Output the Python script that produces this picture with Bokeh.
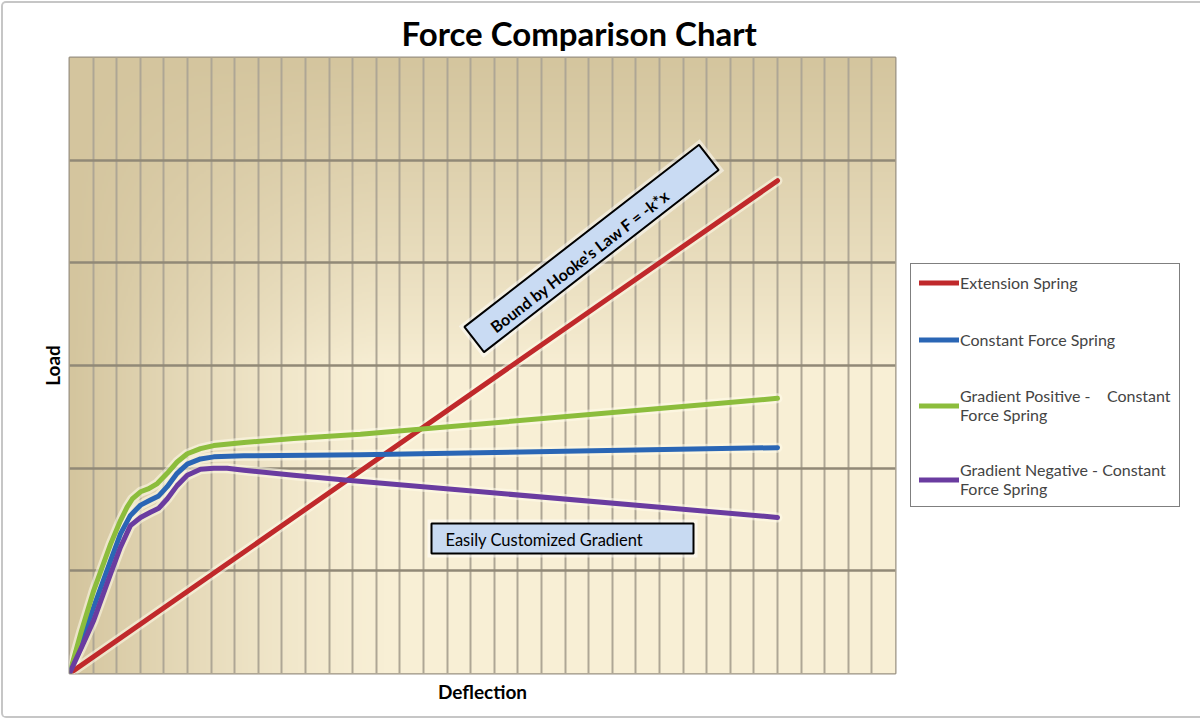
import numpy as np
from bokeh.plotting import figure
from bokeh.embed import file_html
from bokeh.resources import INLINE
from bokeh.models import Legend, LegendItem, FixedTicker, SingleIntervalTicker, Range1d
from bokeh.core.properties import value

# chart texts
TITLE = "Force Comparison Chart"
X_LABEL = "Deflection"
Y_LABEL = "Load"
NOTE_HOOKE = "Bound by Hooke's Law F = -k*x"
NOTE_GRADIENT = "Easily Customized Gradient"

# series (deflection, load) in grid units
ext_x = [0, 30]
ext_y = [0, 4.8]

const_x = [0, 0.5, 1.03, 1.74, 2.16, 2.58, 3.01, 3.43, 3.78, 4.14, 4.56, 4.99, 5.55, 6.11, 7.39, 12.33, 30]
const_y = [0, 0.31, 0.65, 1.10, 1.36, 1.54, 1.64, 1.69, 1.73, 1.82, 1.95, 2.04, 2.09, 2.11, 2.12, 2.13, 2.20]

pos_x = [0, 0.5, 1.03, 1.74, 2.16, 2.44, 2.66, 3.01, 3.36, 3.72, 4.14, 4.56, 4.99, 5.55, 6.11, 7.39, 9.5, 12.33, 30]
pos_y = [0, 0.41, 0.81, 1.26, 1.49, 1.62, 1.70, 1.77, 1.80, 1.85, 1.95, 2.06, 2.14, 2.19, 2.22, 2.25, 2.29, 2.33, 2.68]

neg_x = [0, 0.5, 1.03, 1.74, 2.16, 2.58, 3.01, 3.43, 3.78, 4.14, 4.56, 4.99, 5.55, 6.11, 6.68, 7.39, 9.5, 11.9, 30]
neg_y = [0, 0.25, 0.52, 0.97, 1.23, 1.44, 1.52, 1.57, 1.61, 1.70, 1.83, 1.93, 1.99, 2.00, 2.00, 1.98, 1.93, 1.88, 1.52]

labels = ["Extension Spring",
          "Constant Force Spring",
          "Gradient Positive -    Constant\nForce Spring",
          "Gradient Negative - Constant\nForce Spring"]
colors = ["#c0292b", "#2a66b5", "#8cbd3c", "#6a3ca0"]

X_MAX = 35
Y_MAX = 6

p = figure(frame_width=826, frame_height=616,
           x_range=Range1d(0, X_MAX), y_range=Range1d(0, Y_MAX),
           min_border_left=66, min_border_top=54, min_border_bottom=43, min_border_right=300,
           output_backend="svg", toolbar_location=None, title=TITLE)
p.styles = {"margin": "3px", "box-shadow": "0 0 0 2px #c6c6c6", "border-radius": "3px"}

p.title.align = "left"
p.title.offset = 332
p.title.text_font = "Lato"
p.title.text_font_size = "33px"
p.title.text_font_style = "bold"
p.title.text_color = "black"

# background shading of the plot area (parchment look)
H, W = 308, 413
v, u = np.mgrid[0:1:H * 1j, 0:1:W * 1j]
tv = np.clip((v - 0.5) / 0.5, 0, 1) ** 0.8
th = np.clip(1 - u / 0.38, 0, 1) ** 1.4
t = 1 - (1 - tv) * (1 - th)
dark = np.array([212, 197, 158])
light = np.array([248, 239, 213])
rgb = light[None, None, :] * (1 - t[..., None]) + dark[None, None, :] * t[..., None]
img = np.empty((H, W), dtype=np.uint32)
view = img.view(dtype=np.uint8).reshape((H, W, 4))
view[..., 0] = rgb[..., 0]
view[..., 1] = rgb[..., 1]
view[..., 2] = rgb[..., 2]
view[..., 3] = 255
p.image_rgba(image=[img], x=0, y=0, dw=X_MAX, dh=Y_MAX, level="image")

# grid
p.xgrid.ticker = SingleIntervalTicker(interval=1, num_minor_ticks=0)
p.ygrid.ticker = SingleIntervalTicker(interval=1, num_minor_ticks=0)
p.xgrid.grid_line_color = "#aea695"
p.xgrid.grid_line_width = 2
p.ygrid.grid_line_color = "#918977"
p.ygrid.grid_line_width = 2.5
p.outline_line_color = "#9a9283"
p.outline_line_width = 2
p.background_fill_color = "#efe6c8"

# axes: only the titles are shown
for ax in (p.xaxis[0], p.yaxis[0]):
    ax.ticker = FixedTicker(ticks=[])
    ax.axis_line_color = None
    ax.major_tick_line_color = None
    ax.minor_tick_line_color = None
    ax.major_label_text_font_size = "0px"
    ax.axis_label_text_font = "Lato"
    ax.axis_label_text_font_size = "19px"
    ax.axis_label_text_font_style = "bold"
    ax.axis_label_text_color = "black"
p.xaxis.axis_label = X_LABEL
p.yaxis.axis_label = Y_LABEL
p.xaxis.axis_label_standoff = 6
p.yaxis.axis_label_standoff = 6

# lines with a soft light halo
series = [(ext_x, ext_y), (const_x, const_y), (pos_x, pos_y), (neg_x, neg_y)]
for (xs, ys) in series:
    p.line(xs, ys, line_width=10, line_color="#fffbe9", line_alpha=0.55, line_join="round", line_cap="round")
renderers = []
for (xs, ys), c in zip(series, colors):
    r = p.line(xs, ys, line_width=5, line_color=c, line_join="round", line_cap="round")
    renderers.append(r)

# annotation boxes
p.rect(x=[22.12], y=[4.14], width=305, height=40, angle=0.66, width_units="screen", height_units="screen",
       fill_color="white", fill_alpha=0.5, line_color=None)
p.rect(x=[22.12], y=[4.14], width=297, height=32, angle=0.66, width_units="screen", height_units="screen",
       fill_color="#c9dbf3", line_color="black", line_width=2)
p.text(x=[21.62], y=[4.02], text=[NOTE_HOOKE], angle=0.66, text_align="center", text_baseline="middle",
       text_font=value("Lato"), text_font_size="16px", text_font_style="bold", text_color="black")

p.rect(x=[20.89], y=[1.316], width=270, height=38, width_units="screen", height_units="screen",
       fill_color="white", fill_alpha=0.5, line_color=None)
p.rect(x=[20.89], y=[1.316], width=262, height=30, width_units="screen", height_units="screen",
       fill_color="#c8daf2", line_color="black", line_width=2)
p.text(x=[15.93], y=[1.30], text=[NOTE_GRADIENT], text_align="left", text_baseline="middle",
       text_font=value("Lato"), text_font_size="16.5px", text_color="black")

legend = Legend(items=[LegendItem(label=lab, renderers=[r]) for lab, r in zip(labels, renderers)],
                location=(15, 166), margin=0, padding=8, spacing=36,
                glyph_width=40, glyph_height=21, label_height=21, label_standoff=1,
                label_text_font="Lato", label_text_font_size="16px",
                border_line_color="black", border_line_width=1.5, background_fill_color="white")
p.add_layout(legend, "right")

open("out.html", "w").write(file_html(p, INLINE))
